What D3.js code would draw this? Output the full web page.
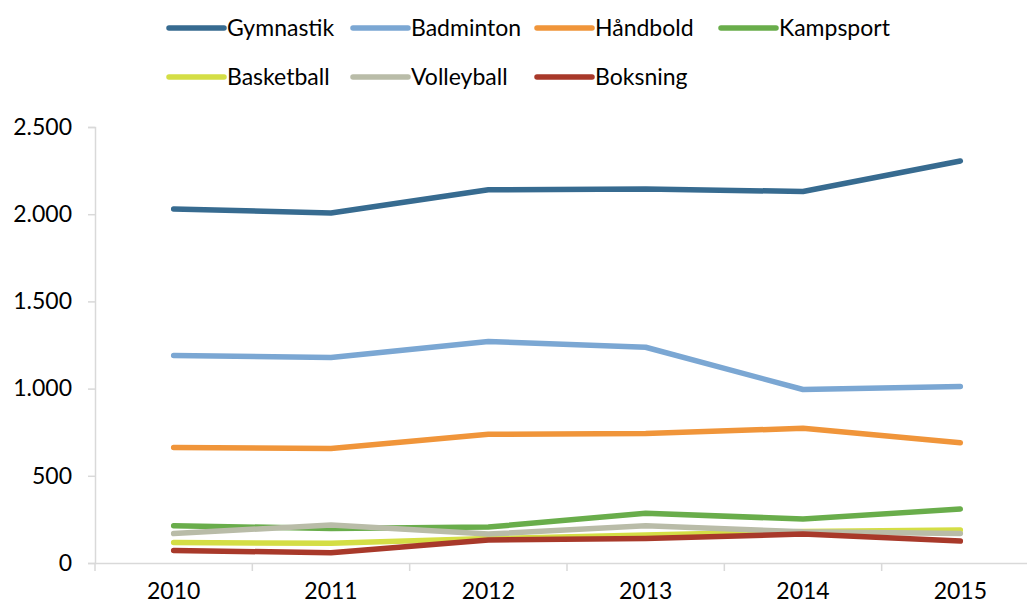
<!DOCTYPE html>
<html>
<head>
<meta charset="utf-8">
<script src="https://cdn.jsdelivr.net/npm/d3@7"></script>
<style>
  body { margin: 0; background: #fff; }
  text { font-family: Lato, "Open Sans", sans-serif; fill: #000; }
</style>
</head>
<body>
<svg id="chart" width="1027" height="607"></svg>
<script>
const years = ['2010', '2011', '2012', '2013', '2014', '2015'];
const seriesNames = ['Gymnastik', 'Badminton', 'Håndbold', 'Kampsport', 'Basketball', 'Volleyball', 'Boksning'];
const gymnastik = [2030, 2007, 2140, 2145, 2130, 2305];
const badminton = [1190, 1178, 1270, 1237, 995, 1012];
const haandbold = [662, 656, 738, 743, 772, 690];
const kampsport = [214, 198, 206, 285, 252, 309];
const basketball = [117, 113, 140, 160, 181, 189];
const volleyball = [169, 218, 166, 214, 179, 169];
const boksning = [72, 59, 132, 140, 166, 126];
const yTicks = [0, 500, 1000, 1500, 2000, 2500];
const colors = ['#376b90', '#7ba7d3', '#f0953a', '#69ad4b', '#d4de45', '#b9bca8', '#a8392a'];

const allValues = [gymnastik, badminton, haandbold, kampsport, basketball, volleyball, boksning];

const svg = d3.select('#chart');
const plotLeft = 95, plotRight = 1039, plotTop = 127, plotBottom = 563;

const x = d3.scaleBand().domain(years).range([plotLeft, plotRight]);
const y = d3.scaleLinear().domain([0, 2500]).range([plotBottom, plotTop]);

const fmt = v => d3.format(',')(v).replace(/,/g, '.');

// y axis
const yAxis = svg.append('g')
  .attr('transform', `translate(${plotLeft},0)`)
  .call(d3.axisLeft(y).tickValues(yTicks).tickSize(7).tickPadding(16).tickFormat(fmt));
yAxis.select('.domain').attr('stroke', '#d9d9d9').attr('stroke-width', 1.5);
yAxis.selectAll('.tick line').attr('stroke', '#d9d9d9').attr('stroke-width', 1.5);
yAxis.selectAll('.tick text').style('font-size', '23px').attr('fill', '#000');

// x axis
const xAxis = svg.append('g')
  .attr('transform', `translate(0,${plotBottom})`)
  .call(d3.axisBottom(x).tickSize(0).tickPadding(20));
xAxis.select('.domain').attr('stroke', '#d9d9d9').attr('stroke-width', 1.5);
xAxis.selectAll('.tick text').style('font-size', '23px').attr('fill', '#000');
xAxis.selectAll('.sep')
  .data(years.concat(['end']))
  .enter().append('line')
  .attr('x1', (d, i) => plotLeft + i * x.bandwidth())
  .attr('x2', (d, i) => plotLeft + i * x.bandwidth())
  .attr('y1', 0).attr('y2', 8)
  .attr('stroke', '#d9d9d9').attr('stroke-width', 1.5);

// lines
const line = d3.line()
  .x((d, i) => x(years[i]) + x.bandwidth() / 2)
  .y(d => y(d));

svg.append('g').selectAll('path')
  .data(allValues)
  .enter().append('path')
  .attr('d', line)
  .attr('fill', 'none')
  .attr('stroke', (d, i) => colors[i])
  .attr('stroke-width', 5.5)
  .attr('stroke-linecap', 'round')
  .attr('stroke-linejoin', 'round');

// legend
const legendPos = [[169, 28], [353, 28], [537, 28], [721, 28], [169, 77], [353, 77], [537, 77]];
const legend = svg.append('g').selectAll('g')
  .data(seriesNames)
  .enter().append('g')
  .attr('transform', (d, i) => `translate(${legendPos[i][0]},${legendPos[i][1]})`);
legend.append('line')
  .attr('x1', 0).attr('x2', 55).attr('y1', 0).attr('y2', 0)
  .attr('stroke', (d, i) => colors[i])
  .attr('stroke-width', 5.5)
  .attr('stroke-linecap', 'round');
legend.append('text')
  .attr('x', 58).attr('y', 0).attr('dy', '0.35em')
  .style('font-size', '23px')
  .text(d => d);
</script>
</body>
</html>
